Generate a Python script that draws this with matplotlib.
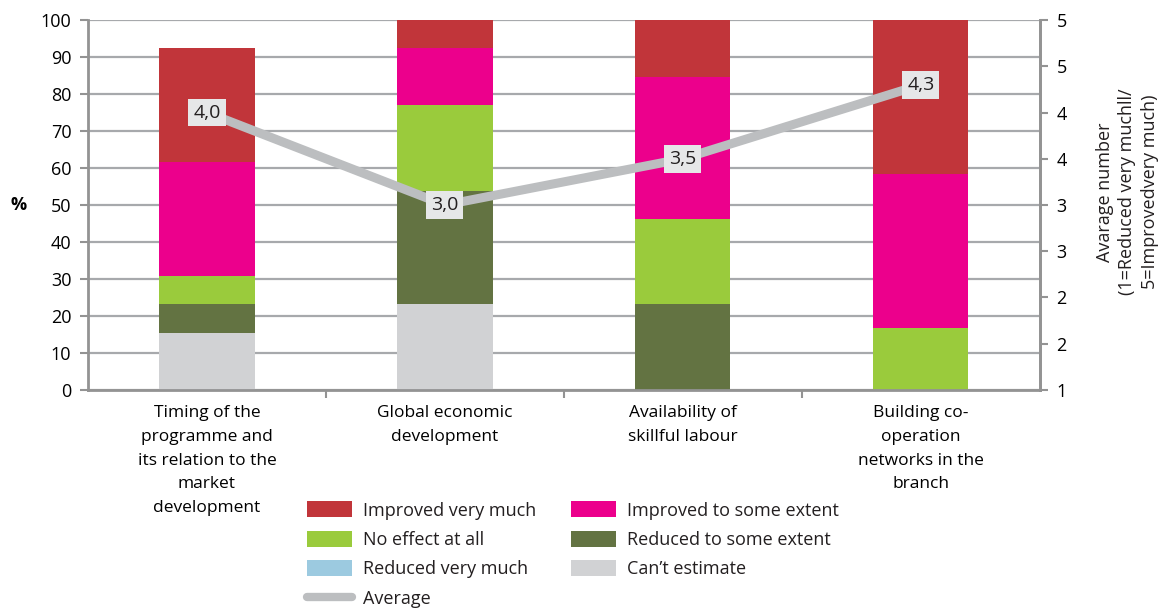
import matplotlib.pyplot as plt
from matplotlib.patches import Patch
from matplotlib.lines import Line2D

categories = [
    "Timing of the\nprogramme and\nits relation to the\nmarket\ndevelopment",
    "Global economic\ndevelopment",
    "Availability of\nskillful labour",
    "Building co-\noperation\nnetworks in the\nbranch",
]

# shares of answers, % (stacked bottom to top)
cant_estimate = [15.4, 23.1, 0.0, 0.0]
reduced_very_much = [0.0, 0.0, 0.0, 0.0]
reduced_some = [7.7, 30.8, 23.1, 0.0]
no_effect = [7.7, 23.1, 23.1, 16.7]
improved_some = [30.8, 15.4, 38.5, 41.6]
improved_very_much = [30.8, 7.6, 15.4, 41.7]

# average score on 1..5 scale
average = [4.0, 3.0, 3.5, 4.3]
average_labels = ["4,0", "3,0", "3,5", "4,3"]

left_ticks = [0, 10, 20, 30, 40, 50, 60, 70, 80, 90, 100]
right_ticks = [1, 1.5, 2, 2.5, 3, 3.5, 4, 4.5, 5]
right_tick_labels = ["1", "2", "2", "3", "3", "4", "4", "5", "5"]

colors = {
    "Improved very much": "#c1353a",
    "Improved to some extent": "#ec008c",
    "No effect at all": "#9acb3c",
    "Reduced to some extent": "#637342",
    "Reduced very much": "#9ccae0",
    "Can\u2019t estimate": "#d1d2d4",
}
avg_color = "#bcbec0"
axis_grey = "#939393"
text_color = "#231f20"

plt.rcParams["font.family"] = ["Open Sans", "DejaVu Sans"]
plt.rcParams["text.color"] = text_color

fig = plt.figure(figsize=(11.67, 6.10), dpi=100)
ax = fig.add_axes([0.0754, 0.361, 0.8156, 0.606])

x = list(range(len(categories)))
width = 0.4
stack = [
    ("Can\u2019t estimate", cant_estimate),
    ("Reduced very much", reduced_very_much),
    ("Reduced to some extent", reduced_some),
    ("No effect at all", no_effect),
    ("Improved to some extent", improved_some),
    ("Improved very much", improved_very_much),
]
bottom = [0.0] * len(x)
for name, vals in stack:
    ax.bar(x, vals, width, bottom=bottom, color=colors[name], linewidth=0, zorder=2)
    bottom = [b + v for b, v in zip(bottom, vals)]

ax.set_xlim(-0.5, 3.5)
ax.set_ylim(0, 100)
ax.set_yticks(left_ticks)
ax.set_axisbelow(True)
ax.yaxis.grid(True, color="#a7a9ac", linewidth=1.6)

ax.set_xticks(x)
ax.set_xticklabels(categories, fontsize=12.5, linespacing=1.65)
ax.tick_params(axis="x", length=0, pad=11)
ax.set_xticks([0.5, 1.5, 2.5], minor=True)
ax.tick_params(axis="x", which="minor", length=6, width=1.5, color=axis_grey)
ax.tick_params(axis="y", length=6, width=1.5, color=axis_grey, labelsize=13, pad=6)

ax.spines["top"].set_visible(False)
for side in ["left", "bottom", "right"]:
    ax.spines[side].set_color(axis_grey)
    ax.spines[side].set_linewidth(2)

ax.set_ylabel("%", rotation=0, fontsize=13, fontweight="bold", labelpad=16, va="center")

# average score on the secondary axis
ax2 = ax.twinx()
ax2.set_ylim(1, 5)
ax2.set_yticks(right_ticks)
ax2.set_yticklabels(right_tick_labels)
ax2.tick_params(axis="y", length=6, width=1.5, color=axis_grey, labelsize=13, pad=6)
for side in ["top", "left", "bottom"]:
    ax2.spines[side].set_visible(False)
ax2.spines["right"].set_color(axis_grey)
ax2.spines["right"].set_linewidth(2)
ax2.plot(x, average, color=avg_color, linewidth=6.5, solid_capstyle="butt", zorder=3)
for xi, v, lab in zip(x, average, average_labels):
    ax2.text(xi, v, lab, ha="center", va="center", fontsize=14, zorder=4,
             bbox=dict(boxstyle="square,pad=0.25", facecolor="#e6e7e8", edgecolor="none"))

fig.text(0.966, 0.685, "Avarage number\n(1=Reduced very muchll/\n5=Improvedvery much)",
         rotation=90, ha="center", va="center", fontsize=13, linespacing=1.3,
         multialignment="center")

# legend: bars, then the average line
order = ["Improved very much", "No effect at all", "Reduced very much",
         "Improved to some extent", "Reduced to some extent", "Can\u2019t estimate"]
handles = [Patch(facecolor=colors[n], edgecolor="none") for n in order[:3]]
handles.append(Line2D([], [], color=avg_color, linewidth=6, solid_capstyle="round"))
handles += [Patch(facecolor=colors[n], edgecolor="none") for n in order[3:]]
labels = order[:3] + ["Average"] + order[3:]
fig.legend(handles, labels, ncol=2, loc="upper left", bbox_to_anchor=(0.2555, 0.193),
           frameon=False, fontsize=13, handlelength=2.5, handleheight=1.0,
           handletextpad=0.6, columnspacing=1.9, labelspacing=0.62, borderpad=0)

fig.savefig("out.png", dpi=100)
